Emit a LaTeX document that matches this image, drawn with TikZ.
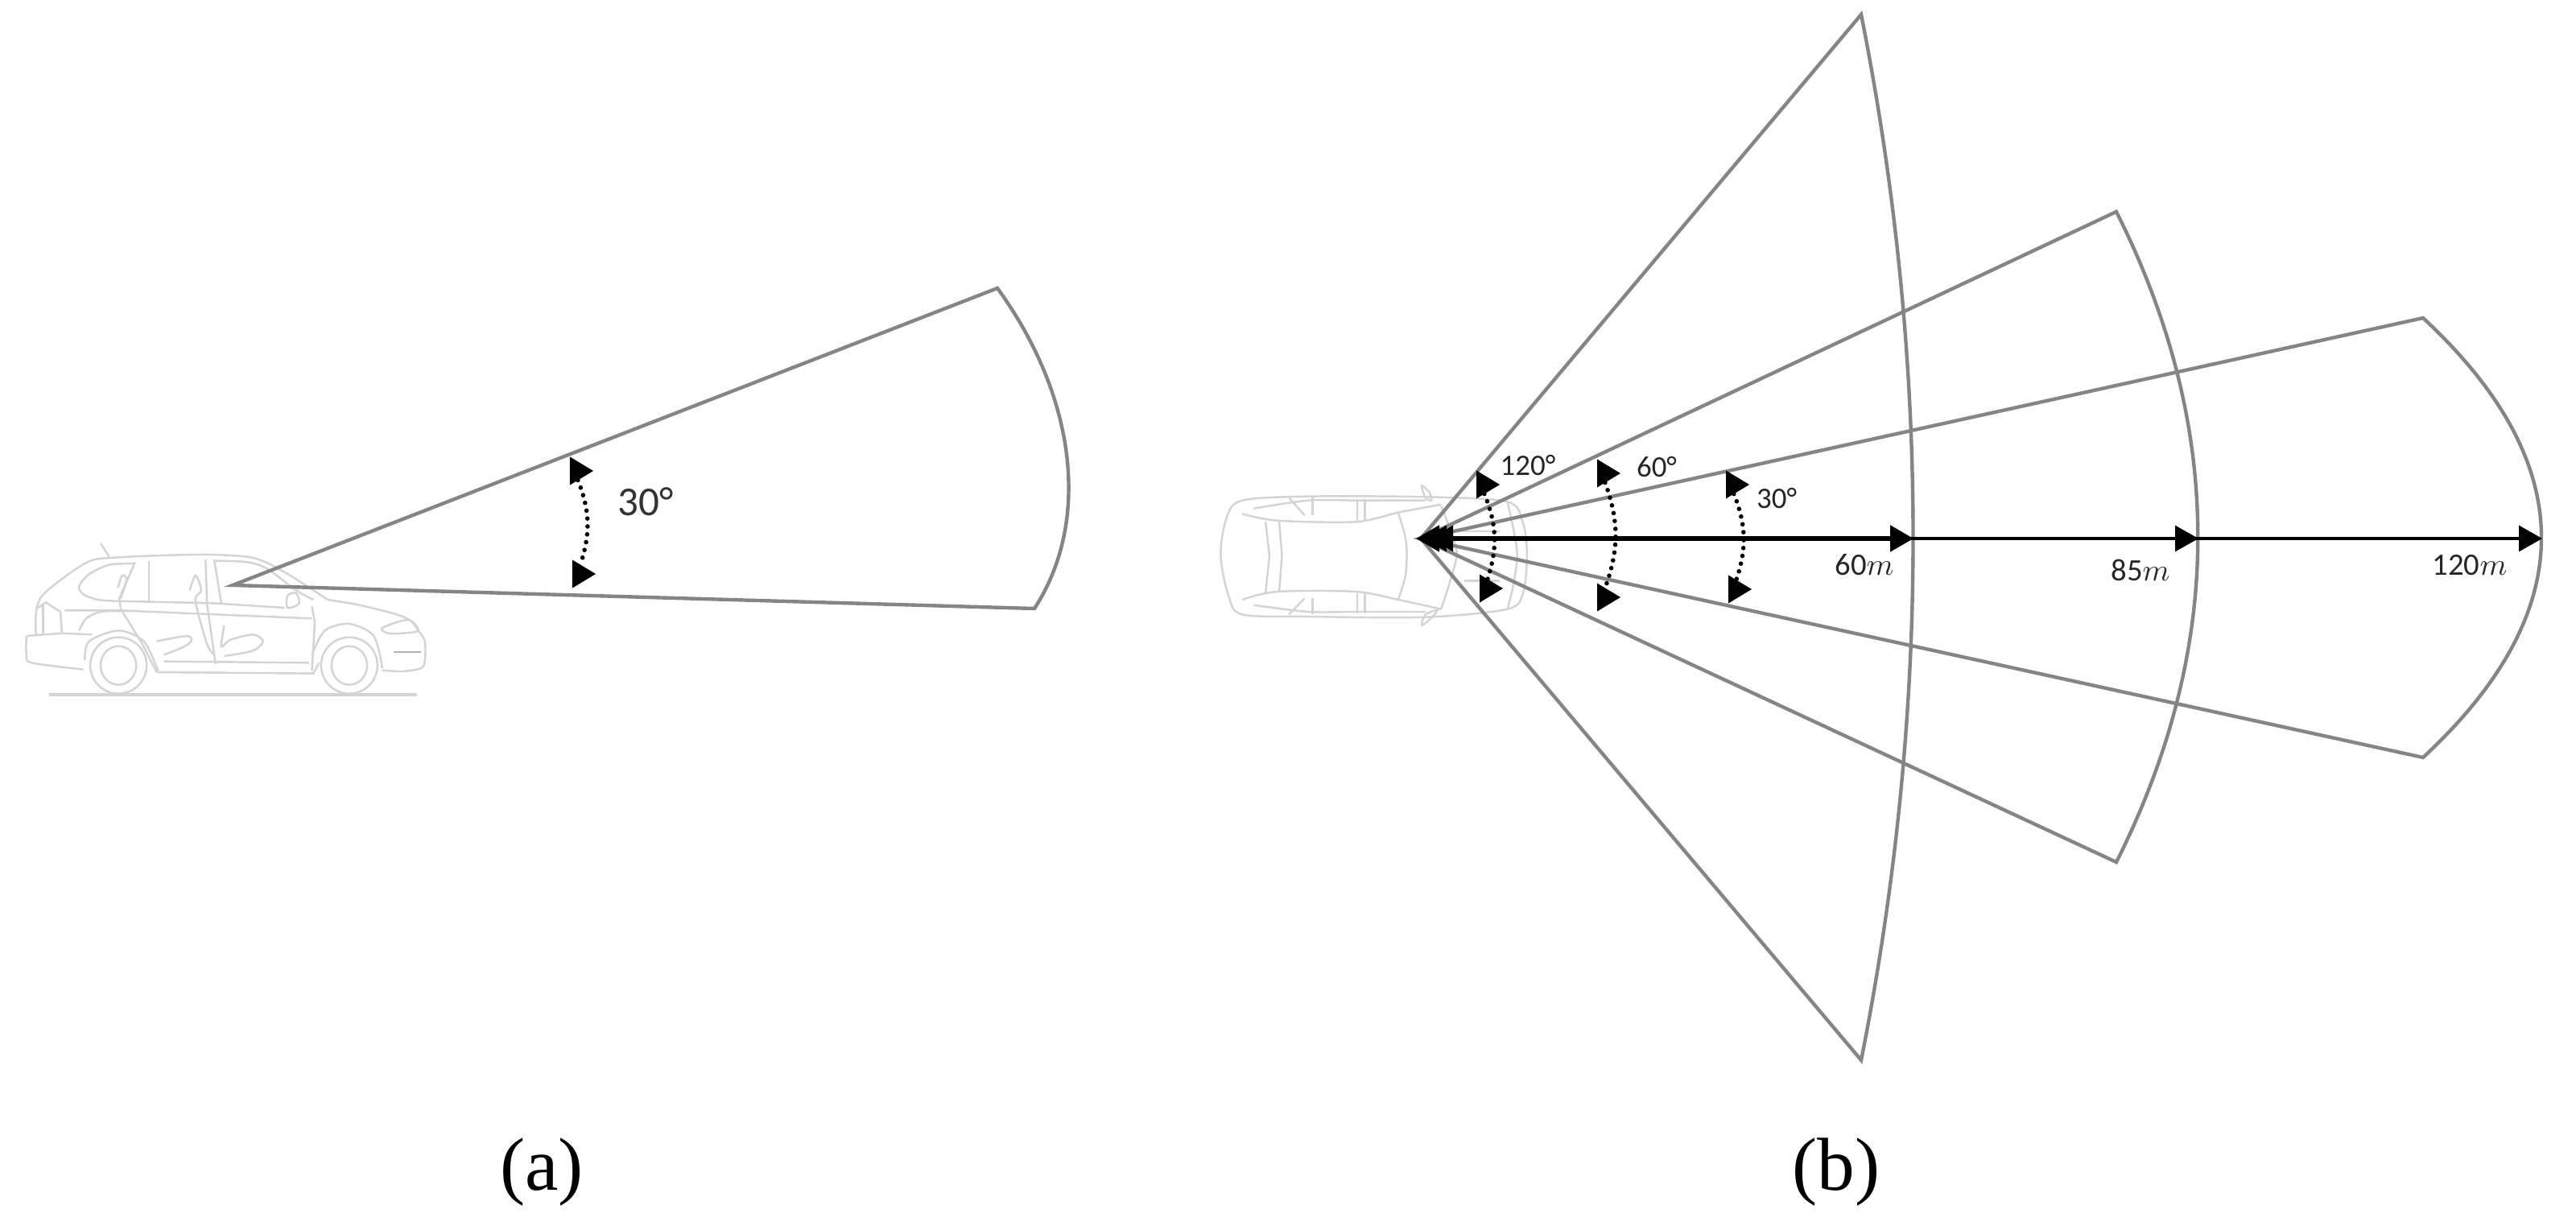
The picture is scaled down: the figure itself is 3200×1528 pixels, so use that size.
\documentclass[tikz,border=0pt]{standalone}
\usepackage{fontspec}
\setmainfont{Carlito}
\newfontfamily\capfont{Liberation Serif}
\usetikzlibrary{arrows.meta, shapes.geometric}
\tikzset{
    sector/.style={draw=black!48, line width=1.25pt, line join=miter},
    carline/.style={draw=black!17, line width=.7pt},
    tiphead/.style={isosceles triangle, isosceles triangle stretches, fill=black, inner sep=0pt, outer sep=0pt,
        minimum width=.35cm, minimum height=.29cm, anchor=apex},
    dots/.style={line width=1.6pt, line cap=round, dash pattern=on 0pt off 2.8pt},
    bigdeg/.style={text=black!80, font=\fontsize{14.5}{16}\selectfont},
    smalldeg/.style={text=black!85, font=\fontsize{10.5}{12}\selectfont},
    dist/.style={text=black!85, font=\fontsize{11}{13}\selectfont},
    caption/.style={font=\capfont\fontsize{26.5}{30}\selectfont}
}

\begin{document}
\begin{tikzpicture}[x=.01cm, y=-.01cm]
    \useasboundingbox (0, 0) rectangle (3200, 1528);

    % side view
    \begin{scope}[shift={(0, 640)}, xscale=1/2.8, yscale=1/3, carline]
        \draw plot[smooth] coordinates {(125,445) (125,370) (140,310) (200,250) (310,172) (400,158) (560,150) (730,147) (860,155) (930,178) (1010,225) (1090,280) (1140,315)};
        \draw plot[smooth] coordinates {(1140,315) (1250,335) (1380,370) (1430,395) (1455,430) (1478,470) (1478,540) (1465,570) (1400,582) (1330,578)};
        \draw plot[smooth] coordinates {(470,180) (380,185) (310,220) (275,265) (290,295) (340,315) (405,320)};
        \draw (470,175) -- (415,310) -- (420,350) -- (490,470) -- (545,585);
        \draw (518,170) -- (518,320);
        \draw (405,320) -- (740,328) -- (990,345);
        \draw (225,355) -- (420,355) -- (750,370) -- (1085,385);
        \draw (715,165) -- (720,330) -- (750,555);
        \draw (745,165) -- (770,330);
        \draw plot[smooth] coordinates {(750,170) (860,175) (930,200) (1030,280) (1090,315)};
        \draw plot[smooth cycle] coordinates {(1000,300) (1030,290) (1040,330) (1000,345)};
        \draw (1085,340) -- (1095,400) -- (1085,580);
        \draw (545,585) -- (1090,590) -- (1110,550);
        \draw (570,545) -- (1075,550);
        \foreach \cx in {412, 1215} {
            \draw (\cx, 560) ellipse [x radius=98, y radius=105];
            \draw (\cx, 560) ellipse [x radius=62, y radius=72];
        }
        \draw plot[smooth] coordinates {(295,540) (310,470) (412,430) (500,470) (550,580)};
        \draw plot[smooth] coordinates {(1085,520) (1130,430) (1215,405) (1300,450) (1330,570)};
        \draw plot[smooth] coordinates {(92,450) (92,520) (110,550) (290,575)};
        \draw (92,450) -- (215,440) -- (320,445);
        \draw plot[smooth] coordinates {(275,430) (300,385) (350,360) (420,358)};
        \draw (125,350) -- (160,325) -- (210,360) -- (215,435);
        \draw (150,335) -- (150,445);
        \draw (350,105) -- (380,155);
        \draw plot[smooth] coordinates {(410,270) (425,225) (440,240) (420,310)};
        \draw plot[smooth] coordinates {(660,280) (680,225) (700,280) (680,320) (720,480) (745,520)};
        \draw plot[smooth] coordinates {(545,470) (650,450) (665,470) (630,495) (570,520)};
        \draw plot[smooth] coordinates {(780,410) (770,490) (800,465) (880,445) (915,470) (880,505) (780,525)};
        \draw plot[smooth cycle] coordinates {(1330,420) (1420,390) (1455,430) (1400,440) (1350,440)};
        \draw[draw=black!30] (1370,510) -- (1465,510);
        \draw[line width=1.2pt] (170,668) -- (1450,668);
    \end{scope}

    % top view
    \begin{scope}[shift={(1480, 540)}, xscale=1/2.063, yscale=1/3, carline]
        \draw plot[smooth cycle] coordinates {(130,245) (300,230) (600,232) (810,250) (850,330) (860,450) (850,590) (810,650) (600,680) (300,678) (130,670) (95,600) (75,450) (90,310)};
        \draw plot[smooth] coordinates {(530,290) (548,380) (552,450) (548,530) (530,615)};
        \draw (190,325) -- (200,450) -- (190,590);
        \draw (225,325) -- (232,450) -- (225,585);
        \draw plot[smooth] coordinates {(130,295) (220,320) (420,325) (530,290) (640,260)};
        \draw plot[smooth] coordinates {(130,615) (220,585) (420,585) (530,615) (640,650)};
        \draw plot[smooth] coordinates {(160,275) (300,245) (430,245) (600,245)};
        \draw plot[smooth] coordinates {(160,635) (300,660) (430,660) (600,660)};
        \draw (250,235) -- (290,300); \draw (310,235) -- (310,300);
        \draw (250,670) -- (290,610); \draw (310,670) -- (310,610);
        \draw (425,240) -- (425,320); \draw (445,240) -- (445,320);
        \draw (425,665) -- (425,590); \draw (445,665) -- (445,590);
        \draw plot[smooth cycle] coordinates {(590,190) (610,215) (615,245) (600,235)};
        \draw plot[smooth cycle] coordinates {(590,710) (610,690) (630,655) (600,670)};
        \draw plot[smooth] coordinates {(640,265) (670,380) (680,450) (660,560) (640,650)};
        \draw (680,360) -- (790,360); \draw (700,545) -- (790,545);
        \draw plot[smooth] coordinates {(810,250) (825,350) (835,450) (825,560) (810,650)};
    \end{scope}

    % sectors
    \coordinate (apexA) at (289, 727);
    \coordinate (topA) at (1239, 358);
    \coordinate (botA) at (1285, 756);
    \coordinate (apexB) at (1765, 669);
    \coordinate (topW) at (2312, 18);
    \coordinate (botW) at (2312, 1317);
    \coordinate (topM) at (2629, 263);
    \coordinate (botM) at (2629, 1071);
    \coordinate (topN) at (3010, 395);
    \coordinate (botN) at (3010, 941);

    \draw[sector] (apexA) -- (topA) .. controls (1335, 490) and (1357, 645) .. (botA) -- cycle;
    \draw[sector] (apexB) -- (topW) .. controls (2398, 451) and (2398, 884) .. (botW) -- cycle;
    \draw[sector] (apexB) -- (topM) .. controls (2764, 532) and (2764, 802) .. (botM) -- cycle;
    \draw[sector] (apexB) -- (topN) .. controls (3206, 577) and (3206, 759) .. (botN) -- cycle;

    % range arrows
    \coordinate (tailW) at (1759, 669);
    \coordinate (tailM) at (1768, 669);
    \coordinate (tailN) at (1776, 669);
    \coordinate (tipW) at (2377, 669);
    \coordinate (tipM) at (2731, 669);
    \coordinate (tipN) at (3158, 669);

    \begin{scope}[>={Triangle[length=.29cm, width=.32cm]}]
        \draw[<->, line width=.9pt] (tailN) -- (tipN);
        \draw[<->, line width=.9pt] (tailM) -- (tipM);
        \draw[<->, line width=1.5pt] (tailW) -- (tipW);
    \end{scope}

    % angle marks
    \node[tiphead] (upA) at (737, 585) {};
    \node[tiphead] (dnA) at (740, 713) {};
    \node[tiphead] (upW) at (1863, 602) {};
    \node[tiphead] (dnW) at (1867, 731) {};
    \node[tiphead] (upM) at (2013, 588) {};
    \node[tiphead] (dnM) at (2013, 742) {};
    \node[tiphead] (upN) at (2173, 602) {};
    \node[tiphead] (dnN) at (2176, 732) {};

    \foreach \a in {A, W, M, N} {
        \draw[dots] (up\a.south) to[bend left=20] (dn\a.north);
    }

    % labels
    \node[bigdeg] (degA) at (802, 623) {30°};
    \node[smalldeg] (degW) at (1898, 578) {120°};
    \node[smalldeg] (degM) at (2058, 580) {60°};
    \node[smalldeg] (degN) at (2207, 619) {30°};
    \node[dist] (distW) at (2316, 702) {60$m$};
    \node[dist] (distM) at (2659, 708) {85$m$};
    \node[dist] (distN) at (3068, 702) {120$m$};
    \node[caption] (capA) at (673, 1456) {(a)};
    \node[caption] (capB) at (2281, 1456) {(b)};
\end{tikzpicture}
\end{document}
